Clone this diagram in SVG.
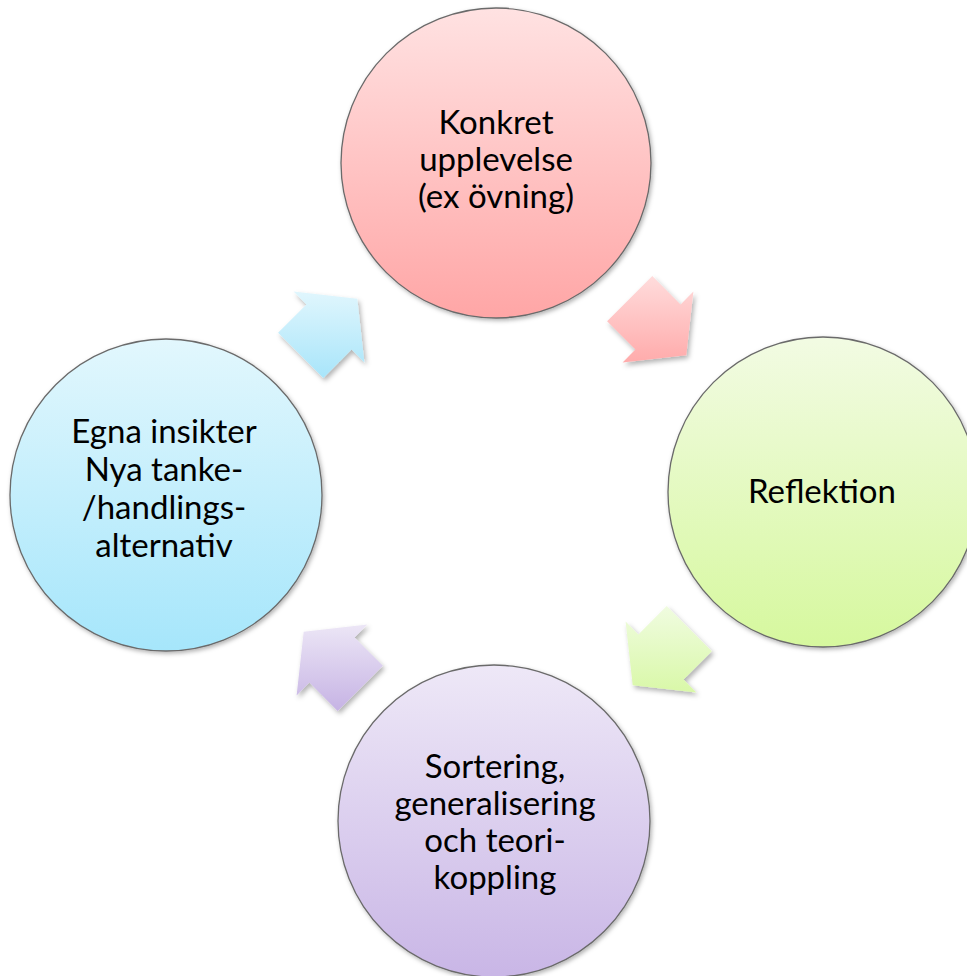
<svg xmlns="http://www.w3.org/2000/svg" width="967" height="976" viewBox="0 0 967 976">
  <defs>
    <linearGradient id="gRed" x1="0" y1="0" x2="0" y2="1">
      <stop offset="0" stop-color="#ffe2e2"/>
      <stop offset="1" stop-color="#ffa6a6"/>
    </linearGradient>
    <linearGradient id="gGreen" x1="0" y1="0" x2="0" y2="1">
      <stop offset="0" stop-color="#f2fbe3"/>
      <stop offset="1" stop-color="#d6f89e"/>
    </linearGradient>
    <linearGradient id="gPurple" x1="0" y1="0" x2="0" y2="1">
      <stop offset="0" stop-color="#eee8f7"/>
      <stop offset="1" stop-color="#c9b6e6"/>
    </linearGradient>
    <linearGradient id="gBlue" x1="0" y1="0" x2="0" y2="1">
      <stop offset="0" stop-color="#e2f7fd"/>
      <stop offset="1" stop-color="#a6e6fb"/>
    </linearGradient>
    <linearGradient id="aRed" x1="0" y1="0" x2="0" y2="1">
      <stop offset="0" stop-color="#ffdcdc"/>
      <stop offset="1" stop-color="#ffabab"/>
    </linearGradient>
    <linearGradient id="aGreen" x1="0" y1="0" x2="0" y2="1">
      <stop offset="0" stop-color="#f0fce0"/>
      <stop offset="1" stop-color="#d9f8a8"/>
    </linearGradient>
    <linearGradient id="aPurple" x1="0" y1="0" x2="0" y2="1">
      <stop offset="0" stop-color="#ece6f6"/>
      <stop offset="1" stop-color="#c6b3e4"/>
    </linearGradient>
    <linearGradient id="aBlue" x1="0" y1="0" x2="0" y2="1">
      <stop offset="0" stop-color="#e0f6fd"/>
      <stop offset="1" stop-color="#a8e5fa"/>
    </linearGradient>
    <filter id="shadow" x="-20%" y="-20%" width="150%" height="150%">
      <feDropShadow dx="2" dy="3" stdDeviation="2.5" flood-color="#000" flood-opacity="0.3"/>
    </filter>
    <filter id="cshadow" x="-10%" y="-10%" width="125%" height="125%">
      <feDropShadow dx="1.5" dy="2" stdDeviation="2" flood-color="#000" flood-opacity="0.3"/>
    </filter>
  </defs>
  <style>
    .circle { stroke: #6a6a6a; stroke-width: 1.3; filter: url(#cshadow); }
    .arrow { filter: url(#shadow); }
    .label { font-family: "Lato", "Liberation Sans", sans-serif; font-size: 33px; fill: #000; text-anchor: middle; }
  </style>
  <rect width="967" height="976" fill="#ffffff"/>

  <g id="connectors">
    <polygon class="arrow" fill="url(#aRed)" points="652.3,276.1 680.6,304.4 693.4,291.6 686.3,355.3 622.6,362.4 635.4,349.6 607.1,321.3"/>
    <polygon class="arrow" fill="url(#aGreen)" points="711.9,651.3 683.6,679.6 696.4,692.4 632.7,685.3 625.6,621.6 638.4,634.4 666.7,606.1"/>
    <polygon class="arrow" fill="url(#aPurple)" points="337.7,710.9 309.4,682.6 296.6,695.4 303.7,631.7 367.4,624.6 354.6,637.4 382.9,665.7"/>
    <polygon class="arrow" fill="url(#aBlue)" points="278.1,332.7 306.4,304.4 293.6,291.6 357.3,298.7 364.4,362.4 351.6,349.6 323.3,377.9"/>
  </g>

  <g id="node-konkret">
    <circle class="circle" cx="496" cy="163" r="155" fill="url(#gRed)"/>
    <text class="label" x="496" y="134">Konkret</text>
    <text class="label" x="496" y="171">upplevelse</text>
    <text class="label" x="496" y="208">(ex övning)</text>
  </g>

  <g id="node-reflektion">
    <circle class="circle" cx="823" cy="492" r="155" fill="url(#gGreen)"/>
    <text class="label" x="822" y="503">Reflektion</text>
  </g>

  <g id="node-sortering">
    <circle class="circle" cx="494" cy="821" r="156" fill="url(#gPurple)"/>
    <text class="label" x="495" y="778">Sortering,</text>
    <text class="label" x="495" y="815">generalisering</text>
    <text class="label" x="495" y="852">och teori-</text>
    <text class="label" x="495" y="889">koppling</text>
  </g>

  <g id="node-egna">
    <circle class="circle" cx="166" cy="495" r="156" fill="url(#gBlue)"/>
    <text class="label" x="164" y="443">Egna insikter</text>
    <text class="label" x="164" y="481">Nya tanke-</text>
    <text class="label" x="164" y="519">/handlings-</text>
    <text class="label" x="164" y="557">alternativ</text>
  </g>
</svg>
